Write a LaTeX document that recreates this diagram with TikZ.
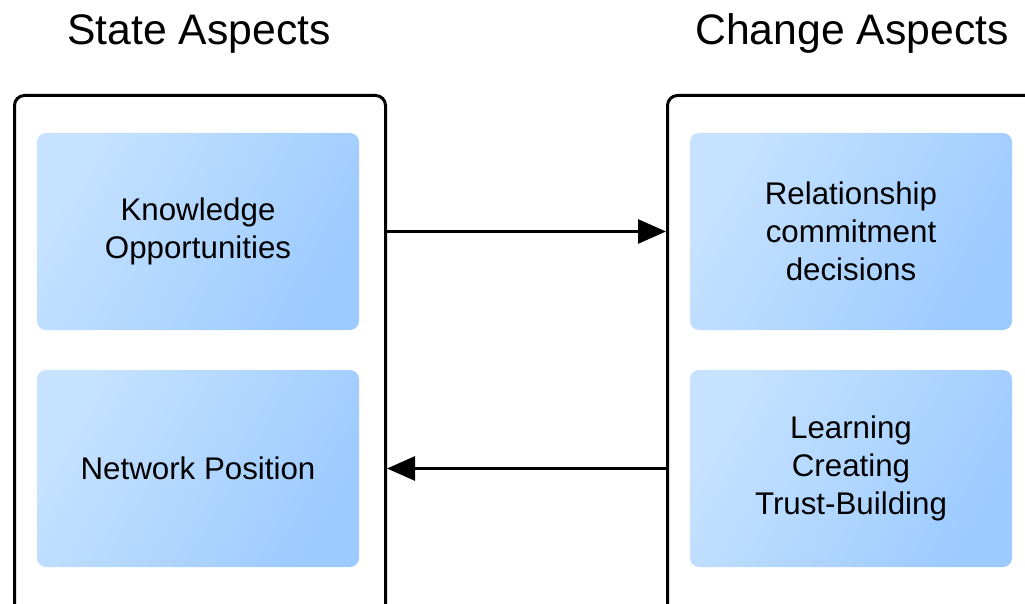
\documentclass[tikz,border=0pt]{standalone}
\usepackage{fontspec}
\setmainfont{Liberation Sans}
\usetikzlibrary{arrows.meta}
\definecolor{boxlight}{HTML}{C6E2FF}
\definecolor{boxdark}{HTML}{9CCBFF}
\tikzset{
  frame/.style={draw=black, line width=3pt, rounded corners=10pt, fill=white,
    minimum width=371pt, minimum height=540pt, inner sep=0pt},
  aspect/.style={rounded corners=9pt, shading=axis, top color=boxlight,
    bottom color=boxdark, shading angle=60, minimum width=322pt,
    minimum height=197pt, inner sep=0pt, align=center,
    font=\fontsize{31.3}{37.8}\selectfont},
  heading/.style={font=\fontsize{42.7}{50}\selectfont, anchor=base},
  flow/.style={line width=3pt, -{Triangle[length=28pt,width=24pt]}}
}
\begin{document}
\begin{tikzpicture}[x=1pt,y=-1pt]
\useasboundingbox (0,0) rectangle (1025,604);
\clip (0,0) rectangle (1025,604);
\fill[white] (0,0) rectangle (1025,604);

% headings
\node[heading] (hstate) at (199,45) {State Aspects};
\node[heading] (hchange) at (852,45) {Change Aspects};

% outer frames, running past the lower edge
\node[frame, anchor=north west] (lframe) at (13,94) {};
\node[frame, anchor=north west] (rframe) at (666,94) {};

% aspect boxes
\node[aspect] (know) at (198,231.5) {Knowledge\\Opportunities};
\node[aspect] (netpos) at (198,468.5) {Network Position};
\node[aspect] (relcom) at (851,231.5) {Relationship\\commitment\\decisions};
\node[aspect] (learn) at (851,468.5) {Learning\\Creating\\Trust-Building};

% connectors between the frames
\draw[flow] (lframe.east |- know) -- (rframe.west |- know);
\draw[flow] (rframe.west |- netpos) -- (lframe.east |- netpos);
\end{tikzpicture}
\end{document}
